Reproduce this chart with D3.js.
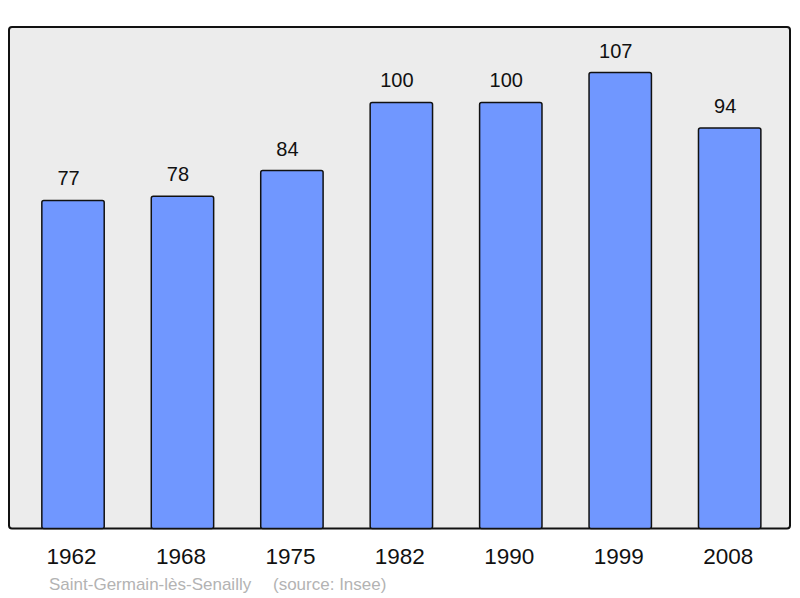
<!DOCTYPE html>
<html>
<head>
<meta charset="utf-8">
<script src="https://cdn.jsdelivr.net/npm/d3@7"></script>
<style>
  body { margin: 0; background: #fff; }
  text { font-family: "Liberation Sans", Arial, sans-serif; }
</style>
</head>
<body>
<div id="chart"></div>
<script>
// data
var years = ["1962", "1968", "1975", "1982", "1990", "1999", "2008"];
var population = [77, 78, 84, 100, 100, 107, 94];
var commune = "Saint-Germain-lès-Senailly";
var source = "(source: Insee)";

var width = 800,
    height = 598;

var svg = d3.select("#chart")
    .append("svg")
    .attr("width", width)
    .attr("height", height);

// panel
var panel = { left: 9, top: 27, right: 790, bottom: 528.5 };

svg.append("rect")
    .attr("x", panel.left)
    .attr("y", panel.top)
    .attr("width", panel.right - panel.left)
    .attr("height", panel.bottom - panel.top)
    .attr("rx", 3)
    .attr("fill", "#ececec")
    .attr("stroke", "#111")
    .attr("stroke-width", 2);

// scales
var x = d3.scaleBand()
    .domain(years)
    .range([18.3, 784.4])
    .paddingInner(0.43)
    .paddingOuter(0.215);

var y = d3.scaleLinear()
    .domain([0, 117.7])
    .range([panel.bottom, panel.top]);

var data = years.map(function(yr, i) { return { year: yr, value: population[i] }; });

// bars
svg.append("g")
  .selectAll("rect")
  .data(data)
  .enter()
  .append("rect")
    .attr("x", function(d) { return x(d.year); })
    .attr("y", function(d) { return y(d.value); })
    .attr("width", x.bandwidth())
    .attr("height", function(d) { return y(0) - y(d.value); })
    .attr("rx", 2)
    .attr("fill", "#7097ff")
    .attr("stroke", "#111")
    .attr("stroke-width", 1.5);

// value labels
svg.append("g")
  .selectAll("text")
  .data(data)
  .enter()
  .append("text")
    .attr("x", function(d) { return x(d.year) + x.bandwidth() / 2 - 4.5; })
    .attr("y", function(d) { return y(d.value) - 15; })
    .attr("text-anchor", "middle")
    .attr("font-size", 20)
    .attr("fill", "#111")
    .text(function(d) { return d.value; });

// year labels
svg.append("g")
  .selectAll("text")
  .data(years)
  .enter()
  .append("text")
    .attr("x", function(d) { return x(d) + x.bandwidth() / 2 - 1.5; })
    .attr("y", 564.3)
    .attr("text-anchor", "middle")
    .attr("font-size", 22.5)
    .attr("fill", "#111")
    .text(function(d) { return d; });

// footer
svg.append("text")
    .attr("x", 49)
    .attr("y", 590)
    .attr("font-size", 17)
    .attr("fill", "#b3b3b3")
    .text(commune);

svg.append("text")
    .attr("x", 273)
    .attr("y", 590)
    .attr("font-size", 17)
    .attr("fill", "#b3b3b3")
    .text(source);
</script>
</body>
</html>
